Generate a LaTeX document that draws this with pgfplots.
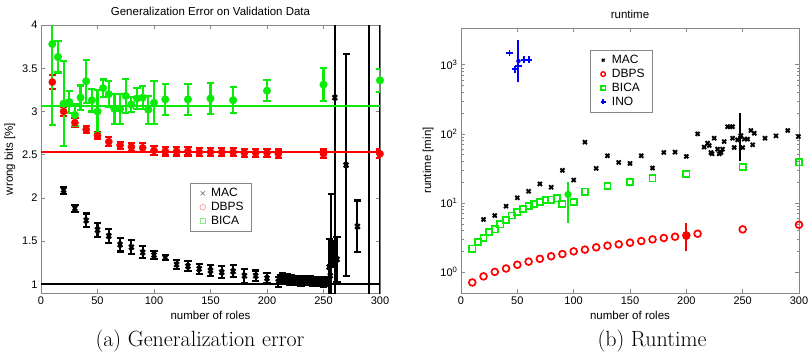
\documentclass[border=0pt]{standalone}
\usepackage{fontspec}
\usepackage{pgfplots}
\pgfplotsset{compat=1.18}
\usepackage{pgfplotstable}
\newfontfamily\helv{Liberation Sans}
\definecolor{mgreen}{RGB}{10,235,10}
\definecolor{mred}{RGB}{255,0,0}
\definecolor{mblue}{RGB}{0,0,255}
\definecolor{axgray}{RGB}{135,135,135}
\definecolor{lgreen}{RGB}{140,235,140}
\definecolor{lred}{RGB}{250,140,140}

% ---------- left plot data ----------
\pgfplotstableread{
x y e
10 3.78 0.94
15 3.63 0.18
20 3.09 0.49
25 3.11 0.13
30 2.96 0.13
35 3.16 0.14
40 3.35 0.25
45 3.13 0.13
50 3.00 0.25
55 3.27 0.10
60 3.20 0.15
65 3.03 0.17
70 3.03 0.17
75 3.18 0.20
80 3.08 0.09
85 3.15 0.12
90 3.16 0.13
95 3.02 0.16
100 3.10 0.25
110 3.14 0.18
130 3.14 0.18
150 3.15 0.18
170 3.13 0.15
200 3.24 0.12
250 3.31 0.19
300 3.36 0.13
}\bicaL
\pgfplotstableread{
x y e
10 3.34 0.08
20 3.00 0.05
30 2.87 0.05
40 2.79 0.04
50 2.72 0.04
60 2.65 0.05
70 2.61 0.04
80 2.59 0.05
90 2.58 0.05
100 2.55 0.05
110 2.54 0.05
120 2.54 0.05
130 2.54 0.05
140 2.53 0.05
150 2.53 0.05
160 2.53 0.05
170 2.53 0.05
180 2.52 0.05
190 2.52 0.05
200 2.52 0.05
210 2.51 0.05
250 2.51 0.05
300 2.51 0.05
}\dbpsL
\pgfplotstableread{
x y e
20 2.09 0.04
30 1.88 0.04
40 1.74 0.08
50 1.63 0.08
60 1.56 0.08
70 1.46 0.08
80 1.43 0.08
90 1.37 0.07
100 1.34 0.05
110 1.31 0.03
120 1.23 0.05
130 1.21 0.06
140 1.18 0.06
150 1.16 0.06
160 1.14 0.07
170 1.15 0.07
180 1.10 0.08
190 1.10 0.06
200 1.07 0.06
210 1.03 0.06
212 1.06 0.05
214 1.07 0.06
216 1.05 0.05
218 1.07 0.05
220 1.05 0.06
222 1.06 0.05
224 1.04 0.05
226 1.05 0.05
228 1.05 0.05
230 1.03 0.05
232 1.05 0.05
234 1.04 0.05
236 1.04 0.05
238 1.05 0.05
240 1.03 0.05
242 1.04 0.05
244 1.03 0.05
246 1.04 0.05
248 1.03 0.05
250 1.02 0.05
252 1.04 0.05
254 1.03 0.05
255 1.20 0.32
256 1.10 0.10
257 1.47 0.58
258 1.35 0.15
260 3.16 3.00
262 1.29 0.26
270 2.38 1.28
280 1.67 0.30
290 4.50 4.00
300 4.50 4.00
}\macL

% ---------- right plot data ----------
\pgfplotstableread{
x y
20 5.79
30 6.6
40 9.0
50 11.9
60 14.8
70 18.9
80 16.9
90 29.7
100 21.5
110 75.9
120 31.7
130 48.2
140 38.7
150 37.4
160 48.2
170 32.1
180 53.9
190 54.5
200 47.2
210 100
215.8 64.4
218.8 73.5
220.3 67.9
221.8 53.8
222.8 51.5
224.7 86.7
227.7 60.2
229.2 51.5
230.7 53.8
232.1 60.2
233.6 77.5
236.6 127
238.8 127
241 127
241 86.7
242.5 63.5
245.5 82
248.4 94.6
250 63.5
251.4 84
254.4 84
257.3 112
258.9 69.5
260.3 102
269.8 86.7
279.6 93.6
290 112
299.5 91.5
}\macR
\pgfplotstableread{
x y
10 0.71
20 0.87
30 1.01
40 1.13
50 1.28
60 1.42
70 1.56
80 1.70
90 1.83
100 2.00
110 2.12
120 2.29
130 2.42
140 2.53
150 2.67
160 2.82
170 2.98
180 3.12
190 3.26
200 3.40
210 3.60
250 4.16
300 4.85
}\dbpsR
\pgfplotstableread{
x y
10 2.19
15 2.73
20 3.12
25 3.81
30 4.16
35 4.91
40 5.73
45 6.61
50 7.38
55 8.24
60 9.0
65 9.72
70 10.4
75 11.0
80 11.2
85 11.7
90 9.62
100 10.4
110 14.6
130 17.5
150 20.2
170 22.8
200 26.3
250 33.1
300 38.7
}\bicaR
\pgfplotstableread{
x y
43 1480
48 855
51 951
56 1185
60 1185
}\inoR
\pgfplotstableread{
x y ep em
95 13.3 6.6 8.2
}\bicaBar
\pgfplotstableread{
x y ep em
200 3.3 1.77 1.27
}\dbpsBar
\pgfplotstableread{
x y ep em
248 90 113 50
}\macBar
\pgfplotstableread{
x y ep em
51 1130 1120 564
}\inoBar

\pgfplotsset{mstyle/.style={
  scale only axis,
  axis line style={axgray, line width=0.8pt},
  tick style={axgray, line width=0.6pt},
  tick align=inside,
  major tick length=4pt, minor tick length=2.5pt,
  xmin=0, xmax=300, xtick={0,50,...,300},
  tick label style={font=\helv\fontsize{11}{13}\selectfont, text=black},
  label style={font=\helv\fontsize{11.5}{13}\selectfont},
  title style={font=\helv\fontsize{11.5}{13}\selectfont},
  /pgf/number format/assume math mode=true,
  legend style={font=\helv\fontsize{12}{14}\selectfont, draw=axgray, fill=white,
    line width=0.6pt, inner xsep=6pt, inner ysep=3pt, row sep=0pt,
    cells={anchor=west},
    /tikz/every even column/.append style={column sep=6pt}},
  legend cell align=left,
  legend image code/.code={\draw[#1] (0pt,0pt) (6pt,0pt) plot coordinates {(6pt,0pt)} (12pt,0pt);},
  ebL/.style={error bars/.cd, y dir=both, y explicit, error mark=-,
    error bar style={line width=2.1pt, ##1},
    error mark options={rotate=90, line width=2.1pt, mark size=3.6pt, ##1}},
}}

\begin{document}
\begin{tikzpicture}[x=1pt,y=1pt]
\path[use as bounding box] (0,0) rectangle (810,-363);

% ================= left =================
\begin{axis}[mstyle,
  at={(41pt,-293pt)}, anchor=south west,
  width=339pt, height=268pt,
  ymin=0.9, ymax=4,
  ytick={1,1.5,2,2.5,3,3.5,4},
  yticklabels={1,1.5,2,2.5,3,3.5,4},
  xlabel={number of roles}, ylabel={wrong bits [\%]},
  title={Generalization Error on Validation Data},
  legend style={at={(0.44,0.41)}, anchor=north west},
]
\addlegendimage{only marks, mark=x, gray, mark size=3pt, line width=0.6pt}
\addlegendentry{MAC}
\addlegendimage{only marks, mark=o, lred, mark size=2.8pt, line width=0.6pt}
\addlegendentry{DBPS}
\addlegendimage{only marks, mark=square, lgreen, mark size=2.6pt, line width=0.6pt}
\addlegendentry{BICA}

\addplot[forget plot, only marks, mark=x, black, mark size=3.3pt, line width=2.2pt, ebL=black]
  table[x=x, y=y, y error=e] {\macL};
\addplot[forget plot, only marks, mark=*, mred, mark size=3.6pt, ebL=mred]
  table[x=x, y=y, y error=e] {\dbpsL};
\addplot[forget plot, only marks, mark=*, mgreen, mark size=3.8pt, ebL=mgreen]
  table[x=x, y=y, y error=e] {\bicaL};
\addplot[forget plot, black, line width=2pt] coordinates {(0,1.0) (300,1.0)};
\addplot[forget plot, mred, line width=2pt] coordinates {(0,2.53) (300,2.53)};
\addplot[forget plot, mgreen, line width=2pt] coordinates {(0,3.06) (300,3.06)};
\end{axis}

% ================= right =================
\begin{axis}[mstyle,
  at={(461pt,-293pt)}, anchor=south west,
  width=338pt, height=265pt,
  ymode=log, ymin=0.5, ymax=3400,
  ytick={1,10,100,1000},
  yticklabels={10\textsuperscript{0},10\textsuperscript{1},10\textsuperscript{2},10\textsuperscript{3}},
  xlabel={number of roles}, ylabel={runtime [min]},
  title={runtime},
  legend style={at={(0.382,0.917)}, anchor=north west},
]
\addlegendimage{only marks, mark=x, black, mark size=2pt, line width=1.3pt}
\addlegendentry{MAC}
\addlegendimage{only marks, mark=o, mred, mark size=2.3pt, line width=1.4pt}
\addlegendentry{DBPS}
\addlegendimage{only marks, mark=square, mgreen, mark size=2.1pt, line width=1.4pt}
\addlegendentry{BICA}
\addlegendimage{only marks, mark=+, mblue, mark size=2.4pt, line width=1.5pt}
\addlegendentry{INO}

\addplot[forget plot, only marks, mark=x, black, mark size=2.8pt, line width=1.9pt]
  table[x=x, y=y] {\macR};
\addplot[forget plot, only marks, mark=o, mred, mark size=3.4pt, line width=1.7pt]
  table[x=x, y=y] {\dbpsR};
\addplot[forget plot, only marks, mark=square, mgreen, mark size=3.1pt, line width=1.7pt]
  table[x=x, y=y] {\bicaR};
\addplot[forget plot, only marks, mark=+, mblue, mark size=3.2pt, line width=1.9pt]
  table[x=x, y=y] {\inoR};
\addplot[forget plot, only marks, mark=*, mgreen, mark size=3.4pt,
  error bars/.cd, y dir=both, y explicit, error mark=none,
  error bar style={line width=2pt, mgreen}]
  table[x=x, y=y, y error plus=ep, y error minus=em] {\bicaBar};
\addplot[forget plot, only marks, mark=*, mred, mark size=3.4pt,
  error bars/.cd, y dir=both, y explicit, error mark=none,
  error bar style={line width=2pt, mred}]
  table[x=x, y=y, y error plus=ep, y error minus=em] {\dbpsBar};
\addplot[forget plot, only marks, mark=*, black, mark size=2pt,
  error bars/.cd, y dir=both, y explicit, error mark=none,
  error bar style={line width=2pt, black}]
  table[x=x, y=y, y error plus=ep, y error minus=em] {\macBar};
\addplot[forget plot, only marks, mark=none, mblue,
  error bars/.cd, y dir=both, y explicit, error mark=none,
  error bar style={line width=2pt, mblue}]
  table[x=x, y=y, y error plus=ep, y error minus=em] {\inoBar};
\end{axis}

\node[font=\fontsize{22}{26}\selectfont] at (200,-341) {(a) Generalization error};
\node[font=\fontsize{22}{26}\selectfont] at (652,-341) {(b) Runtime};
\end{tikzpicture}
\end{document}
